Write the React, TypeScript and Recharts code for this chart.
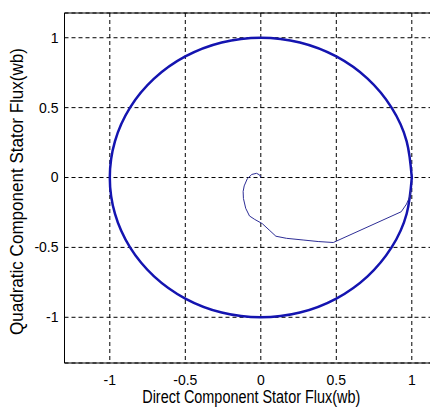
import React from 'react';
import { LineChart, Line, XAxis, YAxis, CartesianGrid, ReferenceLine } from 'recharts';

// axis ticks
const X_TICKS = [-1, -0.5, 0, 0.5, 1];
const Y_TICKS = [-1, -0.5, 0, 0.5, 1];

// steady-state flux locus, read every 15 degrees
const circleX = [1, 0.966, 0.866, 0.707, 0.5, 0.259, 0, -0.259, -0.5, -0.707, -0.866, -0.966, -1, -0.966, -0.866, -0.707, -0.5, -0.259, 0, 0.259, 0.5, 0.707, 0.866, 0.966, 1];
const circleY = [0, 0.259, 0.5, 0.707, 0.866, 0.966, 1, 0.966, 0.866, 0.707, 0.5, 0.259, 0, -0.259, -0.5, -0.707, -0.866, -0.966, -1, -0.966, -0.866, -0.707, -0.5, -0.259, 0];

// start-up transient of the flux
const transientX = [0, -0.007, -0.028, -0.06, -0.09, -0.11, -0.117, -0.115, -0.1, -0.075, -0.04, 0.01, 0.06, 0.1, 0.17, 0.28, 0.38, 0.48, 0.93, 0.965, 0.985, 0.995];
const transientY = [0, 0.018, 0.03, 0.022, -0.01, -0.06, -0.1, -0.15, -0.22, -0.275, -0.3, -0.33, -0.38, -0.42, -0.435, -0.447, -0.458, -0.465, -0.245, -0.19, -0.14, -0.09];

const X_LABEL = 'Direct Component Stator Flux(wb)';
const Y_LABEL = 'Quadratic Component Stator Flux(wb)';

const X_DOMAIN = [-1.3, 1.2];
const Y_DOMAIN = [-1.327, 1.177];

const circleData = circleX.map((x, i) => ({ x, y: circleY[i] }));
const transientData = transientX.map((x, i) => ({ x, y: transientY[i] }));

const font = '"Liberation Sans", Arial, sans-serif';

const renderXLabel = (props: any) => {
  const vb = props.viewBox || {};
  return (
    <text
      x={vb.x + vb.width / 2 - 2}
      y={vb.y + 40}
      textAnchor="middle"
      fontSize={17.5}
      fontFamily={font}
      fill="#000"
      textLength={218}
      lengthAdjust="spacingAndGlyphs"
    >
      {X_LABEL}
    </text>
  );
};

const renderYLabel = (props: any) => {
  const vb = props.viewBox || {};
  const cy = vb.y + vb.height / 2 + 3.5;
  return (
    <text
      x={9}
      y={cy}
      transform={`rotate(-90, 9, ${cy})`}
      textAnchor="middle"
      dominantBaseline="central"
      fontSize={17.5}
      fontFamily={font}
      fill="#000"
      textLength={287}
      lengthAdjust="spacingAndGlyphs"
    >
      {Y_LABEL}
    </text>
  );
};

const App: React.FC = () => {
  return (
    <div style={{ width: 430, height: 405, overflow: 'hidden' }}>
      <LineChart width={440} height={405} margin={{ top: 5, right: 6, bottom: 0, left: 0 }}>
        <CartesianGrid stroke="#000" strokeDasharray="4 3" />
        <XAxis
          type="number"
          dataKey="x"
          domain={X_DOMAIN}
          ticks={X_TICKS}
          allowDataOverflow
          height={50}
          tickLine={false}
          tickSize={0}
          tickMargin={12}
          axisLine={{ stroke: '#000' }}
          tick={{ fill: '#000', fontSize: 14, fontFamily: font }}
          label={{ content: renderXLabel }}
        />
        <YAxis
          type="number"
          dataKey="y"
          domain={Y_DOMAIN}
          ticks={Y_TICKS}
          allowDataOverflow
          width={56.5}
          tickLine={false}
          tickSize={0}
          tickMargin={6}
          axisLine={{ stroke: '#000' }}
          tick={{ fill: '#000', fontSize: 14, fontFamily: font }}
          label={{ content: renderYLabel }}
        />
        <ReferenceLine y={Y_DOMAIN[1]} stroke="#000" ifOverflow="visible" />
        <Line
          data={circleData}
          dataKey="y"
          type="natural"
          stroke="#1414b0"
          strokeWidth={2.5}
          dot={false}
          activeDot={false}
          isAnimationActive={false}
        />
        <Line
          data={transientData}
          dataKey="y"
          type="linear"
          stroke="#2e2e96"
          strokeWidth={1}
          dot={false}
          activeDot={false}
          isAnimationActive={false}
        />
      </LineChart>
    </div>
  );
};

export default App;
